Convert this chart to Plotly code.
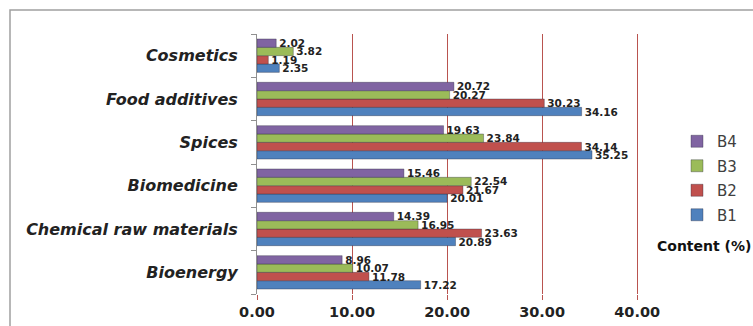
import plotly.graph_objects as go

# Categories listed bottom-to-top (Plotly puts the first category at the bottom)
categories = ["Bioenergy", "Chemical raw materials", "Biomedicine",
              "Spices", "Food additives", "Cosmetics"]

b1 = [17.22, 20.89, 20.01, 35.25, 34.16, 2.35]
b2 = [11.78, 23.63, 21.67, 34.14, 30.23, 1.19]
b3 = [10.07, 16.95, 22.54, 23.84, 20.27, 3.82]
b4 = [8.96, 14.39, 15.46, 19.63, 20.72, 2.02]

series = [("B1", b1, "#4F81BD"), ("B2", b2, "#C0504D"),
          ("B3", b3, "#9BBB59"), ("B4", b4, "#8064A2")]

x_ticks = [0, 10, 20, 30, 40]
x_tick_text = ["0.00", "10.00", "20.00", "30.00", "40.00"]

fig = go.Figure()
for i, (name, vals, color) in enumerate(series):
    fig.add_trace(go.Bar(
        y=categories, x=vals, name=name, orientation="h",
        legendgroup=name, legendrank=len(series) - i,
        marker=dict(color=color, line=dict(color="rgba(40,40,60,0.6)", width=0.6)),
        texttemplate="%{x:.2f}", textposition="outside", constraintext="none",
        cliponaxis=False,
        textfont=dict(family="DejaVu Sans", size=10.5, color="#222222", weight="bold"),
    ))

W, H = 753, 326
ml, mr, mt, mb = 257, 113, 34, 32
pw, ph = W - ml - mr, H - mt - mb

fig.update_layout(
    width=W, height=H,
    margin=dict(l=ml, r=mr, t=mt, b=mb, autoexpand=False),
    paper_bgcolor="white", plot_bgcolor="white",
    barmode="group", bargap=0.23, bargroupgap=0,
    showlegend=True,
    legend=dict(traceorder="grouped", tracegroupgap=2,
                x=1 + (677 - (W - mr)) / pw, xanchor="left",
                y=1 - (125 - mt) / ph, yanchor="top",
                font=dict(family="DejaVu Sans", size=15, color="#404040"),
                itemwidth=30, bgcolor="rgba(0,0,0,0)"),
    xaxis=dict(range=[0, 40.3], tickvals=x_ticks, ticktext=x_tick_text,
               showgrid=True, gridcolor="#B9534F", gridwidth=1,
               zeroline=False, showline=False,
               ticks="outside", ticklen=5, tickcolor="#B9534F",
               ticklabelstandoff=0,
               tickfont=dict(family="DejaVu Sans", size=14.5, color="#222222", weight="bold")),
    yaxis=dict(type="category", categoryorder="array", categoryarray=categories,
               showline=True, linecolor="#909090", linewidth=1,
               ticks="outside", ticklen=5, tickcolor="#909090", tickson="boundaries",
               ticklabelstandoff=15, showgrid=False,
               tickfont=dict(family="DejaVu Sans", size=16, color="#222222",
                             weight="bold", style="italic")),
    annotations=[dict(text="Content (%)", xref="paper", yref="paper",
                      x=1.0 + (655 - (W - mr)) / pw, xanchor="left",
                      y=1 - (246 - mt) / ph, yanchor="middle",
                      showarrow=False,
                      font=dict(family="DejaVu Sans", size=14, color="#111111", weight="bold"))],
    shapes=[dict(type="rect", xref="paper", yref="paper",
                 x0=-(ml - 10) / pw, x1=1 + (mr + 20) / pw,
                 y0=-(mb + 20) / ph, y1=1 + (mt - 10) / ph,
                 line=dict(color="#A0A0A0", width=1.5), layer="below")],
)

fig.write_html("out.html")
